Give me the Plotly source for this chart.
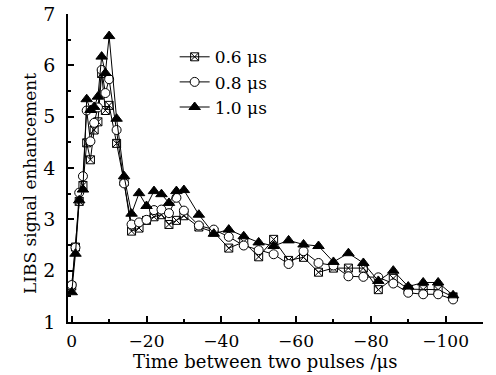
import plotly.graph_objects as go

time_us = [0, -1, -2, -3, -4, -5, -6, -7, -8, -9, -10, -12, -14, -16, -18, -20, -22, -24, -26, -28, -30,
           -34, -38, -42, -46, -50, -54, -58, -62, -66, -70, -74, -78, -82, -86, -90, -94, -98, -102]

s06 = [1.70, 2.46, 3.35, 3.66, 4.49, 4.16, 4.74, 4.90, 5.84, 5.12, 5.22, 4.48, 3.73, 2.77, 2.83, 2.98, 3.05, 3.09, 2.90, 2.98, 3.07,
       2.85, 2.75, 2.44, 2.56, 2.27, 2.61, 2.20, 2.26, 1.97, 2.05, 2.05, 2.05, 1.63, 1.85, 1.64, 1.63, 1.63, 1.49]
s08 = [1.72, 2.45, 3.52, 3.84, 5.12, 4.52, 4.88, 5.18, 5.91, 5.46, 5.73, 4.74, 3.70, 2.90, 2.94, 2.99, 3.18, 3.19, 3.12, 3.42, 3.17,
       2.88, 2.80, 2.66, 2.49, 2.40, 2.32, 2.13, 2.38, 2.15, 2.10, 1.89, 1.88, 1.87, 1.75, 1.57, 1.54, 1.54, 1.44]
s10 = [1.58, 2.33, 3.37, 3.58, 5.34, 5.13, 5.19, 5.39, 6.17, 5.85, 6.57, 4.96, 3.84, 3.11, 3.51, 3.26, 3.55, 3.49, 3.32, 3.55, 3.57,
       3.09, 2.72, 2.80, 2.67, 2.55, 2.48, 2.59, 2.51, 2.48, 2.17, 2.34, 2.15, 1.80, 2.00, 1.69, 1.77, 1.77, 1.52]

names = ["0.6 \u03bcs", "0.8 \u03bcs", "1.0 \u03bcs"]
x_title = "Time between two pulses /\u03bcs"
y_title = "LIBS signal enhancement"
FONT = "DejaVu Serif"

fig = go.Figure()
fig.add_trace(go.Scatter(x=time_us, y=s06, name=names[0], mode="lines+markers",
                         line=dict(color="black", width=1),
                         marker=dict(symbol="square-x-open", size=8, color="black", line=dict(width=1))))
fig.add_trace(go.Scatter(x=time_us, y=s08, name=names[1], mode="lines+markers",
                         line=dict(color="black", width=1),
                         marker=dict(symbol="circle", size=9, color="white", line=dict(color="black", width=1))))
fig.add_trace(go.Scatter(x=time_us, y=s10, name=names[2], mode="lines+markers",
                         line=dict(color="black", width=1),
                         marker=dict(symbol="triangle-up", size=10, color="black", line=dict(color="black", width=1))))

fig.update_layout(
    width=496, height=375,
    margin=dict(l=68, r=13, t=14, b=53),
    paper_bgcolor="white", plot_bgcolor="white",
    font=dict(family=FONT, size=16, color="black"),
    showlegend=True,
    legend=dict(x=0.257, y=0.918, xanchor="left", yanchor="top", bgcolor="rgba(0,0,0,0)",
                font=dict(size=17, family=FONT), tracegroupgap=0, itemwidth=30),
    annotations=[
        dict(text=x_title, xref="paper", yref="paper", x=0.476, y=-0.127,
             xanchor="center", yanchor="middle", showarrow=False, font=dict(size=18, family=FONT)),
        dict(text=y_title, xref="paper", yref="paper", x=-0.0916, y=0.451, textangle=-90,
             xanchor="center", yanchor="middle", showarrow=False, font=dict(size=17, family=FONT)),
    ],
)
fig.update_xaxes(range=[1, -110], tickmode="array", tickvals=[0, -20, -40, -60, -80, -100],
                 ticks="inside", ticklen=6, tickwidth=1.5, tickcolor="black",
                 minor=dict(ticks="inside", ticklen=3, tickvals=[-10, -30, -50, -70, -90, -110], tickcolor="black"),
                 showline=True, linecolor="black", linewidth=1.5, showgrid=False, zeroline=False,
                 automargin=False, tickfont=dict(size=17, family=FONT), ticklabelstandoff=3)
fig.update_yaxes(range=[1, 7], tickmode="array", tickvals=[1, 2, 3, 4, 5, 6, 7],
                 ticks="inside", ticklen=6, tickwidth=1.5, tickcolor="black",
                 minor=dict(ticks="inside", ticklen=3, tickvals=[1.5, 2.5, 3.5, 4.5, 5.5, 6.5], tickcolor="black"),
                 showline=True, linecolor="black", linewidth=1.5, showgrid=False, zeroline=False,
                 automargin=False, tickfont=dict(size=19, family=FONT), ticklabelstandoff=7)

fig.write_html("out.html", config={"displayModeBar": False},
               post_script="document.body.style.margin='0';document.body.style.padding='0';")
